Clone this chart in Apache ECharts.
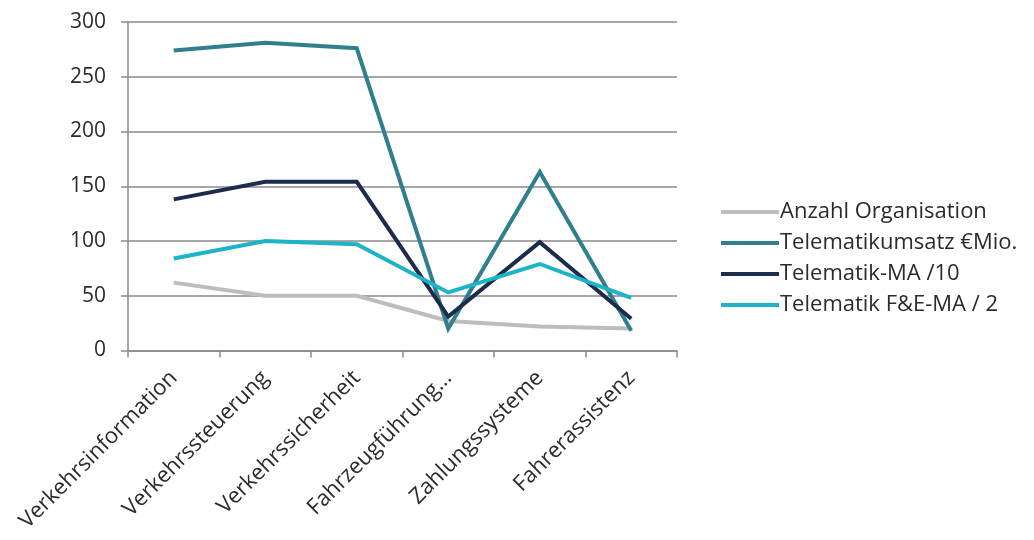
<!DOCTYPE html>
<html>
<head>
<meta charset="utf-8">
<script src="https://cdn.jsdelivr.net/npm/echarts@6/dist/echarts.min.js"></script>
<style>
  html, body { margin: 0; padding: 0; background: #ffffff; }
  #chart { width: 1034px; height: 540px; }
</style>
</head>
<body>
<div id="chart"></div>
<script>
// Telematik-Segmente
const categories = ['Verkehrsinformation', 'Verkehrssteuerung', 'Verkehrssicherheit', 'Fahrzeugführung…', 'Zahlungssysteme', 'Fahrerassistenz'];

const seriesNames = ['Anzahl Organisation', 'Telematikumsatz €Mio.', 'Telematik-MA /10', 'Telematik F&E-MA / 2'];

const anzahlOrganisation = [62, 50, 50, 27, 22, 20];
const telematikumsatz = [274, 281, 276, 20, 163, 18];
const telematikMA = [138, 154, 154, 31, 99, 29];
const telematikFuEMA = [84, 100, 97, 53, 79, 48];

const yTicks = { min: 0, max: 300, interval: 50 };

const colors = ['#bdbdbd', '#2f7f8c', '#1d2c4c', '#1cb4c6'];
const values = [anzahlOrganisation, telematikumsatz, telematikMA, telematikFuEMA];

const font = '"Open Sans", "Noto Sans", sans-serif';

const chart = echarts.init(document.getElementById('chart'), null, { renderer: 'canvas' });

chart.setOption({
  animation: false,
  backgroundColor: '#ffffff',
  color: colors,
  grid: { left: 128, right: 357, top: 22, bottom: 189.5, containLabel: false },
  legend: {
    orient: 'vertical',
    left: 716,
    top: 196,
    itemWidth: 58,
    itemHeight: 4,
    itemGap: 9,
    icon: 'rect',
    data: seriesNames,
    textStyle: { fontFamily: font, fontSize: 22, color: '#2b2b2b', padding: [0, 0, 0, -4], lineHeight: 22 }
  },
  xAxis: {
    type: 'category',
    data: categories,
    boundaryGap: true,
    axisLine: { lineStyle: { color: '#8a8a8a', width: 1.5 } },
    axisTick: { show: true, length: 7, lineStyle: { color: '#8a8a8a', width: 1.5 } },
    axisLabel: {
      rotate: 45,
      interval: 0,
      margin: 24,
      fontFamily: font,
      fontSize: 22,
      color: '#2b2b2b'
    }
  },
  yAxis: {
    type: 'value',
    min: yTicks.min,
    max: yTicks.max,
    interval: yTicks.interval,
    axisLine: { show: true, lineStyle: { color: '#8a8a8a', width: 1.5 } },
    axisTick: { show: true, length: 7, lineStyle: { color: '#8a8a8a', width: 1.5 } },
    axisLabel: { margin: 22, fontFamily: font, fontSize: 21, color: '#2b2b2b' },
    splitLine: { lineStyle: { color: '#8a8a8a', width: 1.5 } }
  },
  series: seriesNames.map((name, i) => ({
    name: name,
    type: 'line',
    data: values[i],
    symbol: 'none',
    lineStyle: { width: 4, color: colors[i], join: 'miter' },
    itemStyle: { color: colors[i] },
    z: 2 + i
  }))
});
</script>
</body>
</html>
